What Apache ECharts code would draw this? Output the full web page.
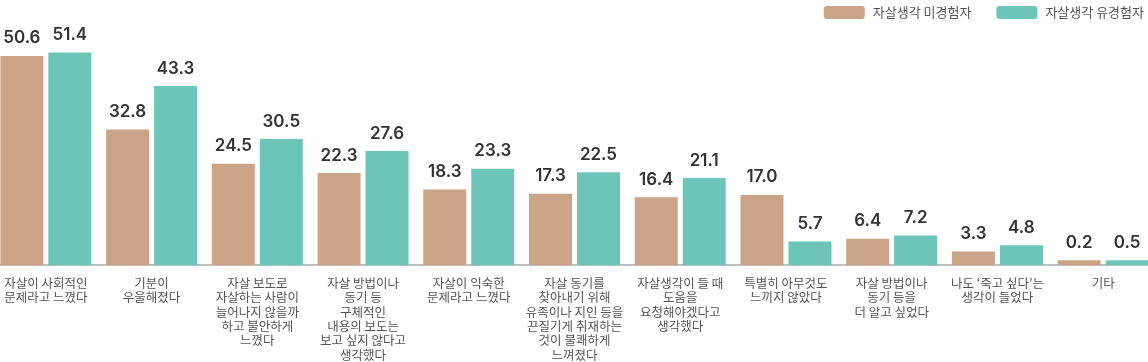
<!DOCTYPE html>
<html>
<head>
<meta charset="utf-8">
<script src="https://cdn.jsdelivr.net/npm/echarts@6/dist/echarts.min.js"></script>
<style>
html,body{margin:0;padding:0;background:#fff;overflow:hidden;width:1148px;height:362px;position:relative;}
#chart{position:absolute;left:-7.35px;top:0;width:1162.7px;height:362px;}
</style>
</head>
<body>
<div id="chart"></div>
<script>
const categories = [
  "자살이 사회적인\n문제라고 느꼈다",
  "기분이\n우울해졌다",
  "자살 보도로\n자살하는 사람이\n늘어나지 않을까\n하고 불안하게\n느꼈다",
  "자살 방법이나\n동기 등\n구체적인\n내용의 보도는\n보고 싶지 않다고\n생각했다",
  "자살이 익숙한\n문제라고 느꼈다",
  "자살 동기를\n찾아내기 위해\n유족이나 지인 등을\n끈질기게 취재하는\n것이 불쾌하게\n느껴졌다",
  "자살생각이 들 때\n도움을\n요청해야겠다고\n생각했다",
  "특별히 아무것도\n느끼지 않았다",
  "자살 방법이나\n동기 등을\n더 알고 싶었다",
  "나도 ‘죽고 싶다’는\n생각이 들었다",
  "기타"
];
const seriesNames = ["자살생각 미경험자", "자살생각 유경험자"];
const nonExperienced = [50.6, 32.8, 24.5, 22.3, 18.3, 17.3, 16.4, 17.0, 6.4, 3.3, 0.2];
const experienced = [51.4, 43.3, 30.5, 27.6, 23.3, 22.5, 21.1, 5.7, 7.2, 4.8, 0.5];

const chart = echarts.init(document.getElementById('chart'), null, {renderer: 'canvas'});
const labelStyle = {
  show: true,
  position: 'top',
  distance: 9,
  color: '#333',
  fontSize: 17,
  fontWeight: 600,
  fontFamily: 'Inter, "Noto Sans", sans-serif',
  formatter: p => p.value.toFixed(1)
};
chart.setOption({
  animation: false,
  backgroundColor: '#fff',
  textStyle: {fontFamily: '"Noto Sans CJK KR", "Noto Sans", sans-serif'},
  legend: {
    top: 1,
    right: 7,
    itemWidth: 41,
    itemHeight: 13,
    itemGap: 25,
    textStyle: {color: '#555', fontSize: 13, padding: [0, 0, 0, 3], fontFamily: '"Noto Sans CJK KR", sans-serif'},
    data: seriesNames
  },
  grid: {left: 0, right: 0, top: 17, bottom: 95, containLabel: false},
  xAxis: {
    type: 'category',
    data: categories,
    axisLine: {lineStyle: {color: '#aaa', width: 1.5}},
    axisTick: {show: false},
    axisLabel: {
      interval: 0,
      margin: 11,
      color: '#555',
      fontSize: 12.5,
      lineHeight: 14.3,
      fontFamily: '"Noto Sans CJK KR", sans-serif',
      align: 'center',
      verticalAlign: 'top'
    }
  },
  yAxis: {
    type: 'value',
    min: 0,
    max: 60,
    show: false,
    splitLine: {show: false}
  },
  series: [
    {
      name: seriesNames[0],
      type: 'bar',
      data: nonExperienced,
      barWidth: 43,
      barGap: '11.6%',
      barMinHeight: 5,
      itemStyle: {color: '#CBA488'},
      label: labelStyle
    },
    {
      name: seriesNames[1],
      type: 'bar',
      data: experienced,
      barWidth: 43,
      barGap: '11.6%',
      barMinHeight: 5,
      itemStyle: {color: '#6DC5B9'},
      label: labelStyle
    }
  ]
});
</script>
</body>
</html>
